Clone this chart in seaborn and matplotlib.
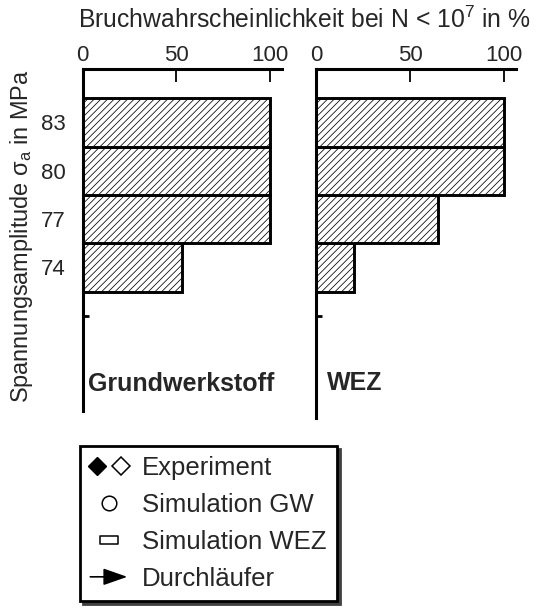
import numpy as np
import pandas as pd
import matplotlib
matplotlib.use("Agg")
import matplotlib.pyplot as plt
import seaborn as sns
from matplotlib.lines import Line2D
from matplotlib.path import Path
from matplotlib.patches import FancyArrowPatch
from matplotlib.legend_handler import HandlerBase, HandlerTuple

# Stress amplitudes (MPa) and failure probabilities (%) for N < 1e7
sigma_a = [83, 80, 77, 74]
p_grundwerkstoff = [100, 100, 100, 53]
p_wez = [100, 100, 65, 20]
ytick_values = [71, 74, 77, 80, 83]
ytick_labels = ["", "74", "77", "80", "83"]
xtick_values = [0, 50, 100]
panel_names = ["Grundwerkstoff", "WEZ"]
legend_labels = ["Experiment", "Simulation GW", "Simulation WEZ", "Durchläufer"]

sns.set_theme(style="white")
plt.rcParams["font.family"] = ["Liberation Sans", "DejaVu Sans"]
plt.rcParams["mathtext.fontset"] = "custom"
plt.rcParams["mathtext.rm"] = "Liberation Sans"
plt.rcParams["hatch.color"] = "0.3"
plt.rcParams["hatch.linewidth"] = 0.55

W, H = 544, 610
fig = plt.figure(figsize=(W / 100, H / 100), dpi=100)

def px_axes(x0, y_top, x1, y_bot):
    return fig.add_axes([x0 / W, 1 - y_bot / H, (x1 - x0) / W, (y_bot - y_top) / H])

ax_gw = px_axes(82.7, 69, 281.5, 411)
ax_wez = px_axes(316, 69, 516, 418)

panels = [
    (ax_gw, p_grundwerkstoff, (65.09, 86.31), True),
    (ax_wez, p_wez, (64.65, 86.31), False),
]

for (ax, values, ylim, show_labels), name in zip(panels, panel_names):
    df = pd.DataFrame({"sigma": sigma_a, "p": values})
    sns.barplot(data=df, x="p", y="sigma", orient="h", native_scale=True,
                width=1.0, color="white", saturation=1, edgecolor="black",
                linewidth=2.1, hatch="/////", ax=ax, zorder=2)
    ax.set_xlim(0, 106.2)
    ax.set_ylim(*ylim)
    ax.set_xlabel("")
    ax.set_ylabel("")
    ax.xaxis.tick_top()
    ax.set_xticks(xtick_values)
    ax.set_xticklabels([str(v) for v in xtick_values])
    ax.set_yticks(ytick_values)
    ax.set_yticklabels(ytick_labels if show_labels else [""] * len(ytick_values))
    ax.tick_params(axis="x", direction="in", length=9.5, width=1.3,
                   labelsize=16, pad=2.5, color="black", top=True, bottom=False)
    ax.tick_params(axis="y", direction="in", length=4, width=2,
                   labelsize=16, pad=12, color="black", left=True)
    for side in ("right", "bottom"):
        ax.spines[side].set_visible(False)
    for side in ("top", "left"):
        ax.spines[side].set_visible(True)
        ax.spines[side].set_linewidth(2.2)
        ax.spines[side].set_color("black")
    ax.set_facecolor("none")
    ax.grid(False)

ax_gw.text(0.027, 0.059, panel_names[0], transform=ax_gw.transAxes,
           fontsize=18, fontweight="bold", va="baseline", ha="left")
ax_wez.text(0.053, 0.079, panel_names[1], transform=ax_wez.transAxes,
            fontsize=18, fontweight="bold", va="baseline", ha="left")

fig.text(78 / W, 1 - 27.7 / H,
         r"Bruchwahrscheinlichkeit bei N < 10$^\mathregular{7}$ in %",
         fontsize=17.8, ha="left", va="baseline")
fig.text(22 / W, 1 - 236 / H,
         r"Spannungsamplitude σ$_\mathregular{a}$ in MPa",
         fontsize=16.9, rotation=90, ha="center", va="center")

# Legend
class ArrowHandler(HandlerBase):
    def create_artists(self, legend, orig_handle, xdescent, ydescent,
                       width, height, fontsize, trans):
        y = height / 2 - ydescent
        arrow = FancyArrowPatch((-xdescent, y), (-xdescent + width, y),
                                arrowstyle="-|>,head_length=0.8,head_width=0.28",
                                mutation_scale=fontsize, color="black",
                                linewidth=1.2, shrinkA=0, shrinkB=0,
                                transform=trans)
        return [arrow]

rect_marker = Path([(-1, -0.42), (1, -0.42), (1, 0.42), (-1, 0.42), (-1, -0.42)],
                   [Path.MOVETO, Path.LINETO, Path.LINETO, Path.LINETO, Path.CLOSEPOLY])

h_exp = (Line2D([], [], linestyle="none", marker="D", markersize=9.3,
                markerfacecolor="black", markeredgecolor="black"),
         Line2D([], [], linestyle="none", marker="D", markersize=9.3,
                markerfacecolor="white", markeredgecolor="black", markeredgewidth=1.1))
h_gw = Line2D([], [], linestyle="none", marker="o", markersize=10.5,
              markerfacecolor="white", markeredgecolor="black", markeredgewidth=1.1)
h_wez = Line2D([], [], linestyle="none", marker=rect_marker, markersize=13,
               markerfacecolor="white", markeredgecolor="black", markeredgewidth=1.1)
h_arrow = Line2D([], [])

leg = fig.legend([h_exp, h_gw, h_wez, h_arrow], legend_labels,
                 loc="upper left", bbox_to_anchor=(80 / W, 1 - 446 / H),
                 borderaxespad=0, fontsize=18.5, frameon=True, fancybox=False,
                 shadow={"color": "0.25", "alpha": 1.0},
                 handlelength=1.44, handletextpad=0.58, labelspacing=0.5,
                 borderpad=0.4,
                 handler_map={h_exp: HandlerTuple(ndivide=None, pad=0.4),
                              h_arrow: ArrowHandler()})
leg.get_frame().set_edgecolor("black")
leg.get_frame().set_linewidth(2.0)
leg.get_frame().set_facecolor("white")

fig.savefig("out.png", dpi=100, facecolor="white")
